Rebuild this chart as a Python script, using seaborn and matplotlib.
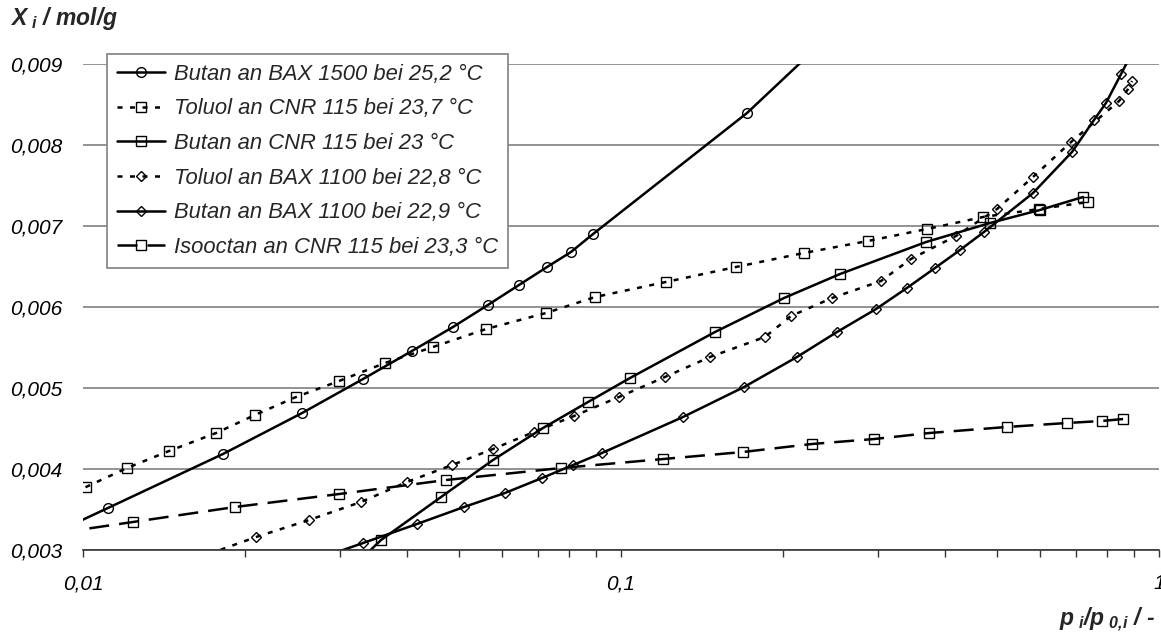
import numpy as np
import pandas as pd
import seaborn as sns
import matplotlib.pyplot as plt
from matplotlib.ticker import FixedLocator, FuncFormatter, NullFormatter

# relative pressure p_i/p_0,i and loading X_i (mol/g)
# (first/last points of some series lie outside the axis range and get clipped)
butan_bax1500_p = [0.00868, 0.01113, 0.0182, 0.02554, 0.03315, 0.04088, 0.04872, 0.05658,
                   0.06463, 0.07288, 0.08073, 0.08872, 0.1715, 0.2446]
butan_bax1500_x = [0.003185, 0.003519, 0.004185, 0.004691, 0.005111, 0.005457, 0.005753, 0.006025,
                   0.006272, 0.006494, 0.006679, 0.006901, 0.008395, 0.009358]

toluol_cnr_p = [0.00832, 0.01013, 0.01207, 0.01445, 0.01767, 0.02088, 0.02489, 0.02991, 0.03642,
                0.04472, 0.05612, 0.07256, 0.08946, 0.1212, 0.1636, 0.2188, 0.2878, 0.3705,
                0.4709, 0.5984, 0.738]
toluol_cnr_x = [0.003519, 0.003778, 0.004012, 0.004222, 0.004444, 0.004667, 0.004889, 0.005086, 0.005309,
                0.005506, 0.005728, 0.005926, 0.006123, 0.006309, 0.006494, 0.006667, 0.006815, 0.006963,
                0.007111, 0.00721, 0.007296]

butan_cnr_p = [0.03203, 0.0358, 0.04629, 0.05782, 0.07161, 0.08685, 0.1039, 0.1495, 0.2009,
               0.2553, 0.3689, 0.4852, 0.6009, 0.7224]
butan_cnr_x = [0.002815, 0.003123, 0.003654, 0.004111, 0.004506, 0.004827, 0.005123, 0.005691, 0.006111,
               0.006407, 0.006802, 0.007037, 0.007198, 0.007358]

toluol_bax1100_p = [0.01332, 0.02097, 0.02631, 0.03287, 0.04002, 0.04852, 0.05782, 0.06891, 0.08176,
                    0.09915, 0.1207, 0.1464, 0.1852, 0.2070, 0.2467, 0.3043, 0.3459, 0.4195, 0.5000,
                    0.5832, 0.6863, 0.8429, 0.876, 0.891]
toluol_bax1100_x = [0.002691, 0.00316, 0.00337, 0.003593, 0.00384, 0.004049, 0.004247, 0.004457, 0.004654,
                    0.004889, 0.005136, 0.005383, 0.00563, 0.005889, 0.006111, 0.006321, 0.006593, 0.006877,
                    0.00721, 0.007605, 0.008037, 0.008543, 0.008691, 0.00879]

butan_bax1100_p = [0.02531, 0.03315, 0.04176, 0.05108, 0.06087, 0.07133, 0.08142, 0.0922, 0.1304,
                   0.1693, 0.2124, 0.2520, 0.2979, 0.3400, 0.3833, 0.4267, 0.4728, 0.5832, 0.6892,
                   0.7572, 0.797, 0.8503, 0.9025]
butan_bax1100_x = [0.002815, 0.003086, 0.003321, 0.003531, 0.003704, 0.003889, 0.004049, 0.004198, 0.004642,
                   0.005012, 0.005383, 0.005691, 0.005975, 0.006235, 0.006481, 0.006704, 0.006926, 0.007407,
                   0.007914, 0.008309, 0.008519, 0.008877, 0.00921]

isooctan_cnr_p = [0.00797, 0.01239, 0.01917, 0.02991, 0.04729, 0.07735, 0.1197, 0.1686, 0.2265,
                  0.2953, 0.3737, 0.5219, 0.6745, 0.7838, 0.8575]
isooctan_cnr_x = [0.00316, 0.003346, 0.003531, 0.003691, 0.003864, 0.004012, 0.004123, 0.00421, 0.004309,
                  0.00437, 0.004444, 0.004519, 0.004568, 0.004593, 0.004617]

labels = ["Butan an BAX 1500 bei 25,2 °C",
          "Toluol an CNR 115 bei 23,7 °C",
          "Butan an CNR 115 bei 23 °C",
          "Toluol an BAX 1100 bei 22,8 °C",
          "Butan an BAX 1100 bei 22,9 °C",
          "Isooctan an CNR 115 bei 23,3 °C"]

series = [
    (butan_bax1500_p, butan_bax1500_x, "-", "o", 7),
    (toluol_cnr_p, toluol_cnr_x, (0, (2, 3)), "s", 7.5),
    (butan_cnr_p, butan_cnr_x, "-", "s", 7.5),
    (toluol_bax1100_p, toluol_bax1100_x, (0, (2, 3)), "D", 5.5),
    (butan_bax1100_p, butan_bax1100_x, "-", "D", 5.5),
    (isooctan_cnr_p, isooctan_cnr_x, (0, (8, 4)), "s", 7.5),
]

sns.set_theme(style="white")
plt.rcParams["font.family"] = ["Liberation Sans", "DejaVu Sans"]
plt.rcParams["mathtext.fontset"] = "custom"
plt.rcParams["mathtext.it"] = "Liberation Sans:italic:bold"
plt.rcParams["mathtext.rm"] = "Liberation Sans:italic:bold"

fig = plt.figure(figsize=(11.61, 6.35), dpi=100)
W, H = 1161, 635
ax = fig.add_axes([83 / W, 1 - 550 / H, (1159 - 83) / W, (550 - 64) / H])

for (p, x, ls, mk, ms), lab in zip(series, labels):
    df = pd.DataFrame({"p": p, "x": x})
    sns.lineplot(data=df, x="p", y="x", ax=ax, sort=False, estimator=None,
                 color="black", linestyle=ls, linewidth=1.8,
                 marker=mk, markersize=ms, markerfacecolor="none",
                 markeredgecolor="black", markeredgewidth=1.0, label=lab)

ax.set_xscale("log")
ax.set_xlim(0.01, 1)
ax.set_ylim(0.003, 0.009)

ax.xaxis.set_major_locator(FixedLocator([0.01, 0.1, 1]))
ax.xaxis.set_major_formatter(FuncFormatter(lambda v, pos: f"{v:g}".replace(".", ",")))
minors = [m * d for d in (0.01, 0.1) for m in range(2, 10)]
ax.xaxis.set_minor_locator(FixedLocator(minors))
ax.xaxis.set_minor_formatter(NullFormatter())

ax.yaxis.set_major_locator(FixedLocator([0.003, 0.004, 0.005, 0.006, 0.007, 0.008, 0.009]))
ax.yaxis.set_major_formatter(FuncFormatter(lambda v, pos: f"{v:.3f}".replace(".", ",")))

ax.grid(axis="y", color="#808080", linewidth=1.2)
ax.grid(axis="x", visible=False)
for s in ("left", "top", "right"):
    ax.spines[s].set_visible(False)
ax.spines["bottom"].set_color("#333333")
ax.spines["bottom"].set_linewidth(1.2)

ax.tick_params(axis="x", which="both", direction="out", length=5, width=1,
               color="#333333", bottom=True, pad=12.5)
ax.tick_params(axis="y", length=0, pad=15)
for t in ax.get_xticklabels() + ax.get_yticklabels():
    t.set_fontstyle("italic")
    t.set_fontsize(15)
    t.set_color("black")

ax.set_xlabel("")
ax.set_ylabel("")

fig.text(10 / W, 1 - 18 / H, r"X$_{\ i}$ / mol/g", fontsize=16.5, fontweight="bold",
         fontstyle="italic", ha="left", va="center")
fig.text(1155 / W, 1 - 620 / H, r"p$_{\ i}$/p$_{\ 0{,}i}$ / -", fontsize=16.5, fontweight="bold",
         fontstyle="italic", ha="right", va="center")

leg = ax.legend(loc="upper left", bbox_to_anchor=(107 / W, 1 - 54 / H),
                bbox_transform=fig.transFigure, borderaxespad=0, frameon=True,
                fancybox=False, framealpha=1, edgecolor="#808080",
                handlelength=2.2, handletextpad=0.4, labelspacing=0.62,
                borderpad=0.45, prop={"size": 15.8, "style": "italic"})
leg.get_frame().set_linewidth(1.2)

fig.savefig("out.png", dpi=100)
